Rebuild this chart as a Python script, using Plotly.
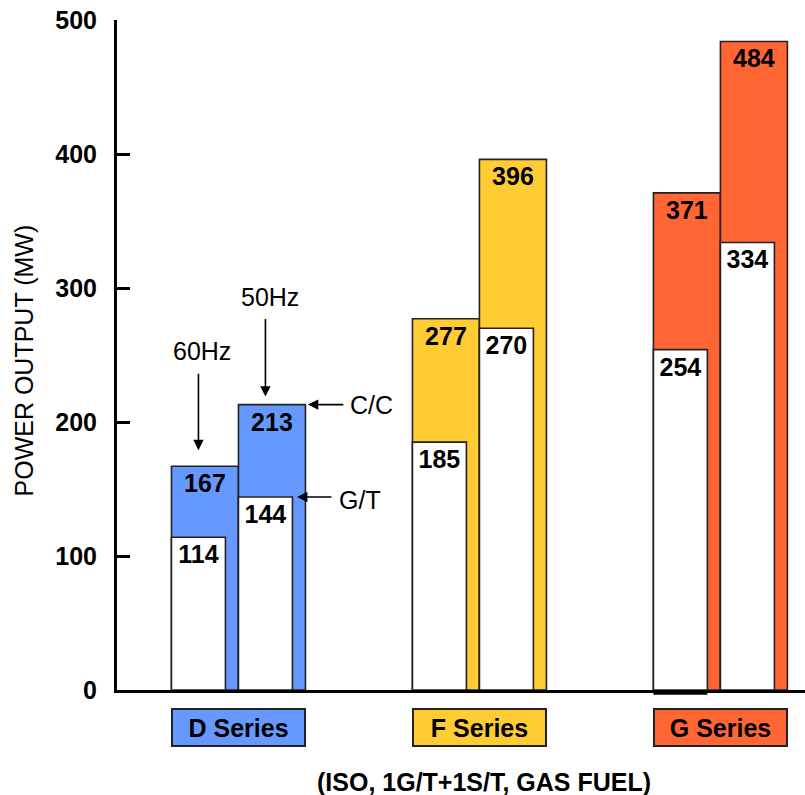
import plotly.graph_objects as go

# ---- data ----
groups = ["D Series", "F Series", "G Series"]
cc_60 = [167, 277, 371]   # combined cycle, 60Hz
gt_60 = [114, 185, 254]   # gas turbine, 60Hz
cc_50 = [213, 396, 484]   # combined cycle, 50Hz
gt_50 = [144, 270, 334]   # gas turbine, 50Hz
group_colors = ["#6699FF", "#FFCC33", "#FF6633"]
y_ticks = [0, 100, 200, 300, 400, 500]
footer = "(ISO, 1G/T+1S/T, GAS FUEL)"
y_title = "POWER OUTPUT (MW)"

# ---- geometry / style ----
FONT = "Liberation Sans, Arial, sans-serif"
CW = 0.278   # coloured bar width (x units)
WW = 0.224   # white bar width
LINE = "#222222"
xpos = list(range(len(groups)))

fig = go.Figure()

def add_bars(vals, offset, width, colors):
    fig.add_trace(go.Bar(
        x=xpos, y=vals, offset=offset, width=width,
        marker=dict(color=colors, line=dict(color=LINE, width=1.6)),
        text=[str(v) for v in vals], textposition="inside",
        insidetextanchor="end", textangle=0,
        textfont=dict(family=FONT, size=25, color="black", weight="bold"),
        hoverinfo="skip", showlegend=False, cliponaxis=False,
    ))

add_bars(cc_60, -CW, CW, group_colors)
add_bars(cc_50, 0, CW, group_colors)
add_bars(gt_60, -CW, WW, ["white"] * 3)
add_bars(gt_50, 0, WW, ["white"] * 3)

ann = []
# series label boxes
for i, g in enumerate(groups):
    ann.append(dict(
        x=xpos[i], xref="x", y=-0.056, yref="paper", text=g, showarrow=False,
        xanchor="center", yanchor="middle",
        width=131, height=35, bgcolor=group_colors[i], bordercolor=LINE,
        borderwidth=2, borderpad=0,
        font=dict(family=FONT, size=25, color="black", weight="bold"),
    ))

# footer
ann.append(dict(x=0.533, xref="paper", y=-0.138, yref="paper", text=footer,
                showarrow=False, xanchor="center", yanchor="middle",
                font=dict(family=FONT, size=25, color="black", weight="bold")))
# y title
ann.append(dict(x=-0.135, xref="paper", y=0.492, yref="paper", text=y_title,
                showarrow=False, textangle=-90, xanchor="center", yanchor="middle",
                font=dict(family=FONT, size=25, color="black")))

arrow_style = dict(showarrow=True, arrowhead=2, arrowsize=1.3, arrowwidth=1.6,
                   arrowcolor="black", axref="pixel", ayref="pixel", text="")
# 60Hz
ann.append(dict(x=-CW + WW / 2, y=cc_60[0] + 12, xref="x", yref="y", ax=0, ay=-78, **arrow_style))
ann.append(dict(x=-0.151, y=253, xref="x", yref="y", text="60Hz", showarrow=False,
                font=dict(family=FONT, size=25, color="black")))
# 50Hz
ann.append(dict(x=WW / 2, y=cc_50[0] + 6, xref="x", yref="y", ax=0, ay=-79, **arrow_style))
ann.append(dict(x=0.131, y=293, xref="x", yref="y", text="50Hz", showarrow=False,
                font=dict(family=FONT, size=25, color="black")))
# C/C
ann.append(dict(x=CW + 0.01, y=cc_50[0], xref="x", yref="y", ax=37, ay=0, **arrow_style))
ann.append(dict(x=0.454, y=cc_50[0], xref="x", yref="y", text="C/C", showarrow=False,
                xanchor="left", font=dict(family=FONT, size=25, color="black")))
# G/T
ann.append(dict(x=CW - 0.035, y=gt_50[0], xref="x", yref="y", ax=36, ay=0, **arrow_style))
ann.append(dict(x=0.409, y=gt_50[0] - 2, xref="x", yref="y", text="G/T", showarrow=False,
                xanchor="left", font=dict(family=FONT, size=25, color="black")))

# thick dark base under the G-series 60Hz G/T bar (as in the original artwork)
shapes = [dict(type="line", xref="x", yref="paper",
               x0=xpos[2] - CW, x1=xpos[2] - CW + WW, y0=-0.004, y1=-0.004,
               line=dict(color="black", width=4))]

fig.update_layout(
    width=805, height=795,
    margin=dict(l=117, r=0, t=20, b=105, autoexpand=False),
    paper_bgcolor="white", plot_bgcolor="white",
    barmode="overlay",
    annotations=ann,
    shapes=shapes,
    xaxis=dict(range=[-0.504, 2.351], showgrid=False, zeroline=False,
               showticklabels=False, ticks="", showline=True, automargin=False,
               linecolor="black", linewidth=3, fixedrange=True),
    yaxis=dict(range=[0, 500], tickvals=y_ticks, ticktext=[str(t) for t in y_ticks],
               showgrid=False, zeroline=False, showline=True, linecolor="black",
               linewidth=3, ticks="inside", ticklen=13, tickwidth=3, automargin=False,
               tickcolor="black", ticklabelstandoff=12,
               tickfont=dict(family=FONT, size=25, color="black", weight="bold"),
               fixedrange=True),
)

fig.write_html(
    "out.html",
    config={"displayModeBar": False},
    post_script="document.body.style.margin='0';document.body.style.overflow='hidden';",
)
